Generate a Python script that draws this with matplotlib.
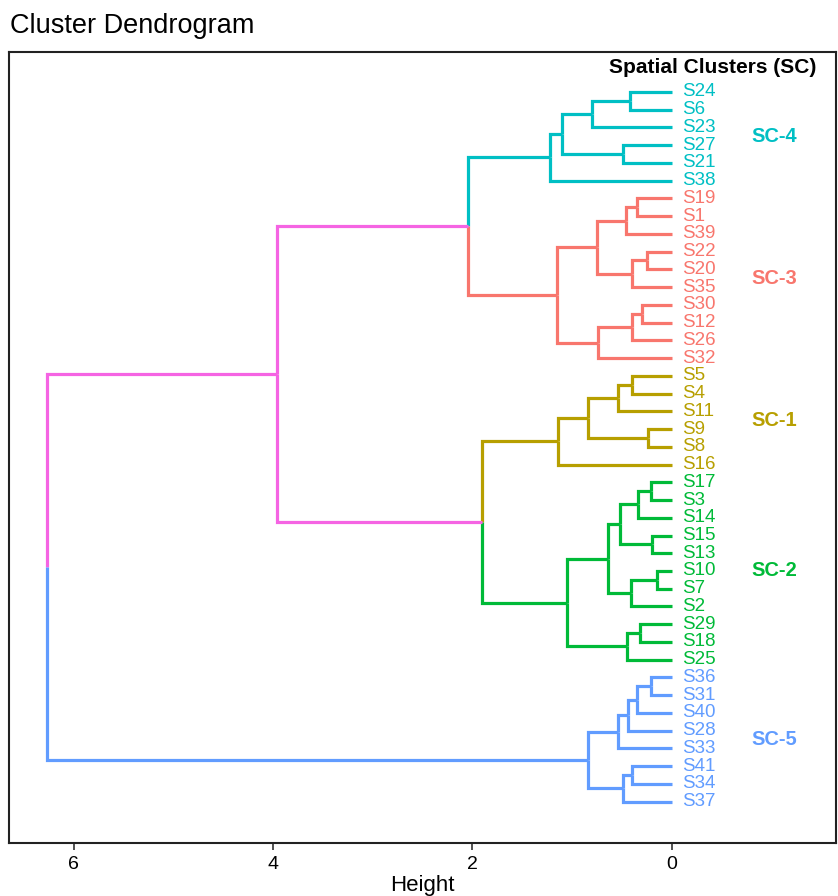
import matplotlib
matplotlib.use("Agg")
import matplotlib.pyplot as plt

plt.rcParams['font.family'] = ['Liberation Sans', 'DejaVu Sans']

# leaf order top to bottom and their cluster
leaves = ["S24", "S6", "S23", "S27", "S21", "S38",
          "S19", "S1", "S39", "S22", "S20", "S35", "S30", "S12", "S26", "S32",
          "S5", "S4", "S11", "S9", "S8", "S16",
          "S17", "S3", "S14", "S15", "S13", "S10", "S7", "S2", "S29", "S18", "S25",
          "S36", "S31", "S40", "S28", "S33", "S41", "S34", "S37"]
leaf_cluster = ["SC-4"] * 6 + ["SC-3"] * 10 + ["SC-1"] * 6 + ["SC-2"] * 11 + ["SC-5"] * 8

# merges: (child a, child b, height); ints refer to earlier merges
merges = [
    ("S24", "S6", 0.42),   # 0
    (0, "S23", 0.80),      # 1
    ("S27", "S21", 0.49),  # 2
    (1, 2, 1.10),          # 3
    (3, "S38", 1.22),      # 4
    ("S19", "S1", 0.35),   # 5
    (5, "S39", 0.46),      # 6
    ("S22", "S20", 0.25),  # 7
    (7, "S35", 0.40),      # 8
    (6, 8, 0.75),          # 9
    ("S30", "S12", 0.30),  # 10
    (10, "S26", 0.40),     # 11
    (11, "S32", 0.74),     # 12
    (9, 12, 1.15),         # 13
    (4, 13, 2.05),         # 14
    ("S5", "S4", 0.40),    # 15
    (15, "S11", 0.54),     # 16
    ("S9", "S8", 0.24),    # 17
    (16, 17, 0.84),        # 18
    (18, "S16", 1.14),     # 19
    ("S17", "S3", 0.21),   # 20
    (20, "S14", 0.34),     # 21
    ("S15", "S13", 0.20),  # 22
    (21, 22, 0.52),        # 23
    ("S10", "S7", 0.15),   # 24
    (24, "S2", 0.41),      # 25
    (23, 25, 0.64),        # 26
    ("S29", "S18", 0.32),  # 27
    (27, "S25", 0.45),     # 28
    (26, 28, 1.05),        # 29
    (19, 29, 1.90),        # 30
    (14, 30, 3.96),        # 31
    ("S36", "S31", 0.21),  # 32
    (32, "S40", 0.35),     # 33
    (33, "S28", 0.44),     # 34
    (34, "S33", 0.54),     # 35
    ("S41", "S34", 0.40),  # 36
    (36, "S37", 0.49),     # 37
    (35, 37, 0.84),        # 38
    (31, 38, 6.27),        # 39
]

clusters = ["SC-1", "SC-2", "SC-3", "SC-4", "SC-5"]
cluster_colors = {"SC-3": "#F8766D", "SC-1": "#B79F00", "SC-2": "#00BA38",
                  "SC-4": "#00BFC4", "SC-5": "#619CFF"}
top_color = "#F564E3"

# layout: position, height, member leaves for each node
pos = {}
hgt = {}
members = {}
for i, name in enumerate(leaves):
    pos[name] = i
    hgt[name] = 0.0
    members[name] = {leaf_cluster[i]}
for k, (a, b, h) in enumerate(merges):
    pos[k] = (pos[a] + pos[b]) / 2
    hgt[k] = h
    members[k] = members[a] | members[b]


def node_color(n):
    m = members[n]
    if len(m) == 1:
        return cluster_colors[next(iter(m))]
    return top_color


fig = plt.figure(figsize=(8.38, 8.96), dpi=100)
ax = fig.add_axes([9 / 838, 1 - 843 / 896, 827 / 838, 791 / 896])

for k, (a, b, h) in enumerate(merges):
    for c in (a, b):
        ax.plot([h, h, hgt[c]], [pos[k], pos[c], pos[c]], color=node_color(c),
                lw=2.3, solid_joinstyle='miter', solid_capstyle='butt')

for i, name in enumerate(leaves):
    ax.text(-0.1, i, name, color=cluster_colors[leaf_cluster[i]], fontsize=13.5,
            ha='left', va='center')

for cl in clusters:
    idx = [i for i, c in enumerate(leaf_cluster) if c == cl]
    ax.text(-0.8, sum(idx) / len(idx), cl, color=cluster_colors[cl], fontsize=14.5,
            fontweight='bold', ha='left', va='center')

ax.text(-1.447, -1.35, "Spatial Clusters (SC)", fontsize=15, fontweight='bold',
        ha='right', va='center', color='black')

ax.set_xlim(6.65, -1.647)
ax.set_ylim(42.33, -2.25)
ax.set_xticks([6, 4, 2, 0])
ax.set_yticks([])
ax.tick_params(axis='x', labelsize=14, length=5, width=1.2, colors='#333333',
               labelcolor='black', pad=4)
for s in ax.spines.values():
    s.set_linewidth(1.5)
    s.set_color('#222222')
ax.set_xlabel("Height", fontsize=16, labelpad=2)

fig.text(10 / 838, 1 - 33 / 896, "Cluster Dendrogram", fontsize=19.5,
         ha='left', va='baseline')

fig.savefig("out.png", dpi=100)
